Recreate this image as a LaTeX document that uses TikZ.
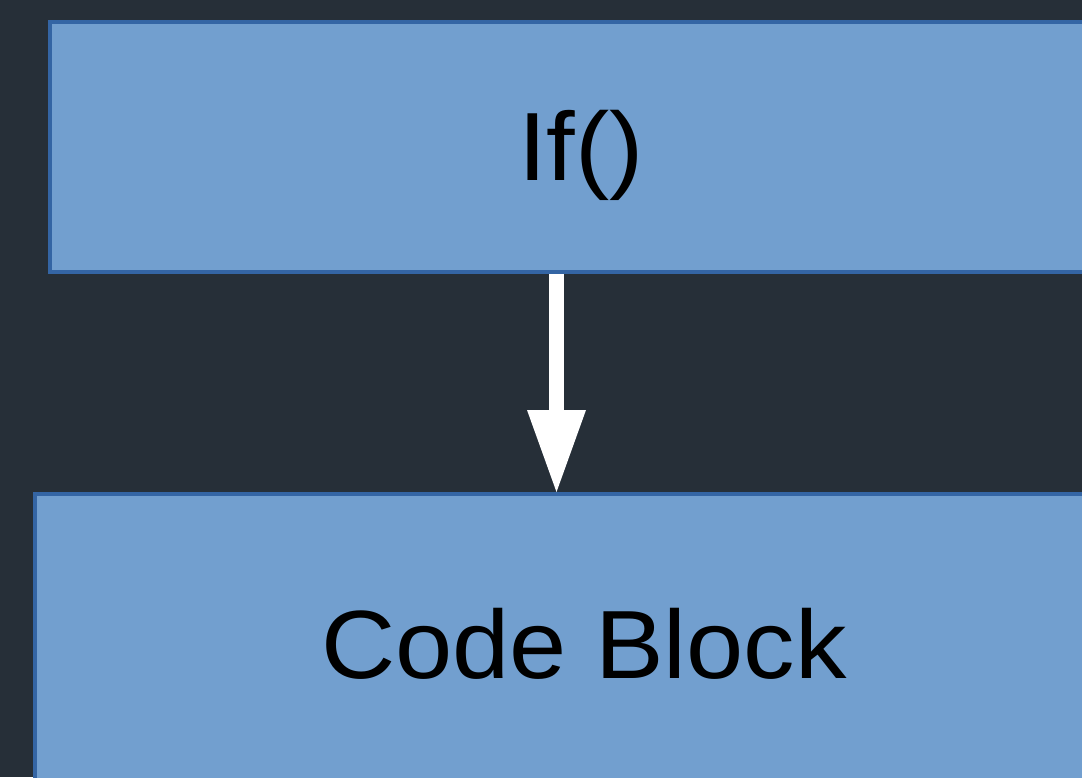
\documentclass[tikz,border=0pt]{standalone}
\usepackage{fontspec}
\usetikzlibrary{arrows.meta}
\newfontfamily\boxfont[FakeStretch=1.06]{Liberation Sans}
\definecolor{canvas}{RGB}{38,47,56}
\definecolor{boxfill}{RGB}{114,159,207}
\definecolor{boxline}{RGB}{52,101,164}
\tikzset{
  stepbox/.style={rectangle, draw=boxline, fill=boxfill, line width=4pt, inner sep=0pt},
  boxlabel/.style={anchor=base, inner sep=0pt, text=black,
    font=\boxfont\fontsize{97}{100}\selectfont},
  flow/.style={draw=white, line width=15pt,
    -{Triangle[width=59pt, length=82pt, line width=0pt]}}
}
\begin{document}
\begin{tikzpicture}[x=1pt, y=-1pt]
  \useasboundingbox (0,0) rectangle (1082,777);
  \fill[canvas] (0,0) rectangle (1082,777);
  \clip (0,0) rectangle (1082,777);
  % condition and body blocks
  \node[stepbox, minimum width=1062pt, minimum height=250pt] (cond) at (581,147) {};
  \node[stepbox, minimum width=1098pt, minimum height=299pt] (body) at (584,643.5) {};
  \node[boxlabel] (condtext) at (581,180) {If()};
  \node[boxlabel] (bodytext) at (584,678) {Code Block};
  % control flow from the condition into the block
  \coordinate (axis) at (556.5,0);
  \draw[flow] (cond.south -| axis) -- (body.north -| axis);
\end{tikzpicture}
\end{document}
